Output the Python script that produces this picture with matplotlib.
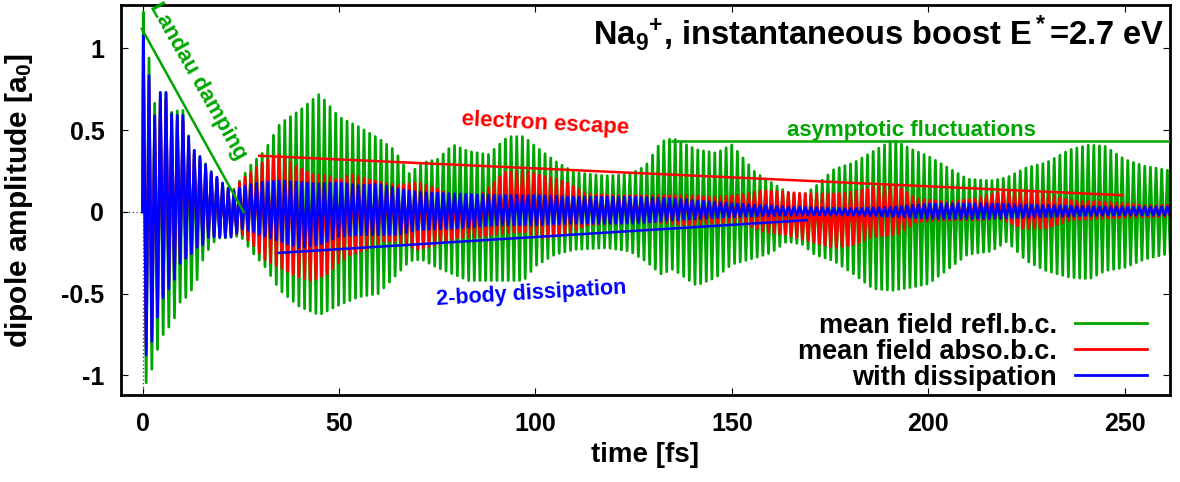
import numpy as np
import matplotlib.pyplot as plt

# envelope of the dipole signal (time in fs, value in a0)
period = 1.44  # plasmon period [fs]
t_end = 262.0

green_t = [0, 1.5, 3, 4.5, 6, 7.5, 9, 10.5, 12, 13.5, 15, 17, 19, 21, 23, 25, 28, 31, 35, 40,
           45, 50, 55, 60, 64, 68, 71, 75, 79, 83, 88, 93, 97, 100, 105, 110, 118, 124, 128, 132,
           135, 141, 146, 150, 156, 160, 164, 168, 171, 176, 181, 186, 191, 196, 200, 205, 210, 216, 220, 225,
           230, 236, 241, 245, 250, 255, 262]
green_top = [1.26, 0.97, 0.66, 0.73, 0.73, 0.60, 0.62, 0.62, 0.43, 0.36, 0.33, 0.26, 0.21, 0.16, 0.13, 0.20, 0.30, 0.37, 0.54, 0.62,
             0.72, 0.58, 0.52, 0.45, 0.38, 0.23, 0.30, 0.32, 0.41, 0.37, 0.35, 0.46, 0.46, 0.40, 0.31, 0.24, 0.22, 0.23, 0.28, 0.43,
             0.45, 0.38, 0.36, 0.41, 0.24, 0.18, 0.12, 0.10, 0.15, 0.26, 0.30, 0.37, 0.44, 0.38, 0.34, 0.27, 0.20, 0.19, 0.21, 0.27,
             0.30, 0.38, 0.41, 0.40, 0.32, 0.28, 0.25]
green_bot = [-1.02, -1.06, -0.89, -0.80, -0.70, -0.71, -0.56, -0.54, -0.49, -0.45, -0.31, -0.22, -0.16, -0.16, -0.15, -0.15, -0.25, -0.33, -0.48, -0.58,
             -0.63, -0.57, -0.52, -0.50, -0.40, -0.30, -0.29, -0.34, -0.38, -0.42, -0.42, -0.42, -0.42, -0.33, -0.26, -0.23, -0.22, -0.24, -0.30, -0.38,
             -0.35, -0.45, -0.40, -0.32, -0.28, -0.25, -0.18, -0.20, -0.26, -0.30, -0.38, -0.47, -0.48, -0.46, -0.44, -0.35, -0.26, -0.24, -0.18, -0.30,
             -0.36, -0.40, -0.41, -0.36, -0.34, -0.29, -0.25]

red_t = [0, 1.5, 3, 4.5, 6, 7.5, 9, 10.5, 12, 13.5, 15, 17, 19, 21, 23, 25, 28, 31, 35, 39,
         43, 47, 50, 53, 57, 61, 65, 70, 75, 80, 86, 92, 97, 102, 108, 113, 120, 130, 138, 145,
         152, 158, 164, 170, 176, 181, 186, 192, 197, 205, 212, 218, 224, 230, 236, 245, 255, 262]
red_top = [1.05, 0.82, 0.55, 0.69, 0.69, 0.56, 0.56, 0.56, 0.41, 0.34, 0.31, 0.24, 0.20, 0.15, 0.12, 0.19, 0.25, 0.31, 0.35, 0.28,
           0.23, 0.22, 0.19, 0.23, 0.20, 0.18, 0.16, 0.18, 0.14, 0.08, 0.10, 0.24, 0.25, 0.22, 0.18, 0.11, 0.10, 0.10, 0.10, 0.09,
           0.10, 0.13, 0.12, 0.11, 0.11, 0.12, 0.15, 0.16, 0.08, 0.06, 0.08, 0.12, 0.12, 0.11, 0.07, 0.06, 0.04, 0.04]
red_bot = [-0.81, -0.85, -0.68, -0.55, -0.45, -0.45, -0.31, -0.28, -0.26, -0.21, -0.20, -0.14, -0.15, -0.15, -0.14, -0.13, -0.20, -0.29, -0.34, -0.39,
           -0.42, -0.38, -0.31, -0.26, -0.23, -0.18, -0.18, -0.23, -0.20, -0.16, -0.15, -0.13, -0.12, -0.16, -0.14, -0.08, -0.07, -0.06, -0.08, -0.07,
           -0.06, -0.12, -0.14, -0.18, -0.22, -0.20, -0.15, -0.14, -0.06, -0.05, -0.05, -0.04, -0.10, -0.10, -0.05, -0.04, -0.03, -0.03]

blue_t = [0, 1.5, 3, 4.5, 6, 7.5, 9, 10.5, 12, 13.5, 15, 17, 19, 21, 23, 25, 28, 30, 35, 40,
          45, 50, 55, 60, 65, 70, 80, 90, 100, 110, 125, 135, 150, 165, 180, 192, 200, 215, 230, 245, 262]
blue_top = [1.11, 0.86, 0.58, 0.73, 0.73, 0.59, 0.59, 0.59, 0.43, 0.36, 0.33, 0.25, 0.21, 0.16, 0.12, 0.15, 0.17, 0.18, 0.19, 0.18,
            0.17, 0.18, 0.16, 0.17, 0.14, 0.12, 0.11, 0.10, 0.10, 0.09, 0.09, 0.08, 0.05, 0.03, 0.02, 0.03, 0.05, 0.05, 0.04, 0.03, 0.03]
blue_bot = [-0.85, -0.89, -0.72, -0.58, -0.47, -0.47, -0.33, -0.29, -0.27, -0.22, -0.21, -0.15, -0.155, -0.155, -0.155, -0.10, -0.12, -0.14, -0.18, -0.22,
            -0.20, -0.15, -0.14, -0.14, -0.14, -0.11, -0.10, -0.08, -0.08, -0.07, -0.07, -0.05, -0.03, -0.02, -0.02, -0.03, -0.04, -0.04, -0.03, -0.02, -0.02]

labels = ["mean field refl.b.c.", "mean field abso.b.c.", "with dissipation"]
colors = ["#00a600", "#ff0000", "#0000ff"]

yticks = [-1, -0.5, 0, 0.5, 1]
ytick_labels = ["-1", "-0.5", "0", "0.5", "1"]
xticks = [0, 50, 100, 150, 200, 250]

plt.rcParams['font.family'] = ['Liberation Sans', 'DejaVu Sans']
plt.rcParams['font.weight'] = 'bold'
plt.rcParams['axes.labelweight'] = 'bold'
plt.rcParams['mathtext.fontset'] = 'custom'
plt.rcParams['mathtext.rm'] = 'Liberation Sans:bold'
plt.rcParams['mathtext.it'] = 'Liberation Sans:bold'
plt.rcParams['mathtext.bf'] = 'Liberation Sans:bold'
plt.rcParams['axes.unicode_minus'] = False


def zigzag(t_knots, top, bot):
    # one point per half period, alternating upper / lower envelope
    tp = np.arange(0.2, t_end, period / 2)
    up = np.interp(tp, t_knots, top)
    lo = np.interp(tp, t_knots, bot)
    vals = np.where(np.arange(len(tp)) % 2 == 0, up, lo)
    return np.r_[0.0, tp], np.r_[0.0, vals]


fig = plt.figure(figsize=(11.8, 4.82), dpi=100)
ax = fig.add_axes([0.1025, 0.1805, 0.889, 0.8091])

ax.axhline(0, color="#404040", ls=(0, (1, 2)), lw=0.9, zorder=0.5)
ax.axvline(0, color="#404040", ls=(0, (1, 2)), lw=0.9, zorder=0.5)

series = [(green_t, green_top, green_bot), (red_t, red_top, red_bot), (blue_t, blue_top, blue_bot)]
handles = []
for (tk, top, bot), lab, col in zip(series, labels, colors):
    t, y = zigzag(tk, top, bot)
    h, = ax.plot(t, y, color=col, lw=2.0, label=lab, zorder=2)
    handles.append(h)

# annotations
ax.plot([-0.2, 25.7], [1.12, 0.0], color=colors[0], lw=1.8, zorder=3)
ax.text(14.0, 0.80, "Landau damping", color=colors[0], fontsize=16, rotation=-60.5,
        ha="center", va="center", rotation_mode="anchor")

ax.plot([29.7, 249.2], [0.343, 0.102], color=colors[1], lw=1.8, zorder=3)
ax.text(102.5, 0.537, "electron escape", color=colors[1], fontsize=16, rotation=-3,
        ha="center", va="center", rotation_mode="anchor")

ax.plot([34.6, 169.0], [-0.251, -0.051], color=colors[2], lw=1.8, zorder=3)
ax.text(99.0, -0.50, "2-body dissipation", color=colors[2], fontsize=15.5, rotation=3.5,
        ha="center", va="center", rotation_mode="anchor")

ax.plot([134.7, 265], [0.433, 0.433], color=colors[0], lw=1.8, zorder=3)
ax.text(195.7, 0.50, "asymptotic fluctuations", color=colors[0], fontsize=16,
        ha="center", va="center")

ax.text(0.995, 0.897, r"Na$_{9}{}^{+}$, instantaneous boost E$^*$=2.7 eV", transform=ax.transAxes,
        fontsize=23.5, ha="right", va="baseline")

ax.set_xlim(-5.5, 261.5)
ax.set_ylim(-1.12, 1.265)
ax.set_xticks(xticks)
ax.set_yticks(yticks)
ax.set_yticklabels(ytick_labels)
ax.tick_params(direction="in", length=5, width=0.8, top=True, right=True, labelsize=18, pad=12)
for s in ax.spines.values():
    s.set_linewidth(2)

ax.set_xlabel("time [fs]", fontsize=20, fontweight="bold")
ax.xaxis.set_label_coords(0.5, -0.12)
ax.set_ylabel("dipole amplitude [a$_0$]", fontsize=21.5, fontweight="bold")
ax.yaxis.set_label_coords(-0.082, 0.5)

ax.legend(handles=handles, loc="lower right", bbox_to_anchor=(0.978, 0.011), frameon=False,
          markerfirst=False, fontsize=19.5, handlelength=2.65, handletextpad=0.67,
          labelspacing=0.0, borderpad=0, borderaxespad=0)

fig.savefig("out.png", dpi=100)
